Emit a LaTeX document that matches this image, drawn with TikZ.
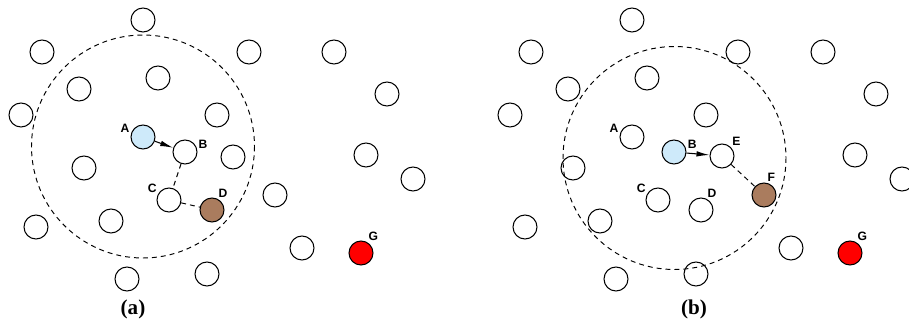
\documentclass[tikz,border=0pt]{standalone}
\usepackage{fontspec}
\setmainfont{Liberation Serif}
\setsansfont{Liberation Sans}
\usetikzlibrary{arrows.meta}

\definecolor{srcblue}{RGB}{206,234,250}
\definecolor{relaybrown}{RGB}{170,124,94}

\begin{document}
\begin{tikzpicture}[x=0.2mm, y=-0.2mm, >={Latex[length=2.6mm, width=1.1mm]},
  sensor/.style={draw, circle, line width=0.6pt, minimum size=4.8mm, inner sep=0pt},
  nlabel/.style={font=\sffamily\bfseries\fontsize{6.9}{8}\selectfont, inner sep=0.6pt},
  radio/.style={draw, line width=0.55pt, dash pattern=on 2.8pt off 2.3pt},
  subcap/.style={font=\bfseries\fontsize{12}{14}\selectfont}]
  \useasboundingbox (0,0) rectangle (909,321);

  % (a)
  \draw[radio] (143,146.5) circle [radius=111.5];
  \node[sensor] (a1) at (143,20) {};
  \node[sensor] (a2) at (42,52) {};
  \node[sensor] (a3) at (249,52) {};
  \node[sensor] (a4) at (334,52) {};
  \node[sensor] (a5) at (158,78) {};
  \node[sensor] (a6) at (79,89) {};
  \node[sensor] (a7) at (387,94) {};
  \node[sensor] (a8) at (21,115) {};
  \node[sensor] (a9) at (217,115) {};
  \node[sensor, fill=srcblue, label={[nlabel]165:A}] (aA) at (143,137) {};
  \node[sensor, label={[nlabel]10:B}] (aB) at (185,152) {};
  \node[sensor] (a10) at (233,157) {};
  \node[sensor] (a11) at (366,155) {};
  \node[sensor] (a12) at (84,168) {};
  \node[sensor] (a13) at (413,179) {};
  \node[sensor, label={[nlabel]150:C}] (aC) at (169,200) {};
  \node[sensor, fill=relaybrown, label={[nlabel]65:D}] (aD) at (212,210) {};
  \node[sensor] (a14) at (275,195) {};
  \node[sensor] (a15) at (36,227) {};
  \node[sensor] (a16) at (111,221) {};
  \node[sensor] (a17) at (302,248) {};
  \node[sensor, fill=red, label={[nlabel]60:G}] (aG) at (361,253) {};
  \node[sensor] (a18) at (127,279) {};
  \node[sensor] (a19) at (207,274) {};
  \draw[->, line width=0.6pt] (aA) -- (aB);
  \draw[radio] (aB) -- (aC);
  \draw[radio] (aC) -- (aD);
  \node[subcap] (capa) at (133,309) {(a)};

  % (b)
  \draw[radio] (674.5,158) circle [radius=111.5];
  \node[sensor] (b1) at (632,20) {};
  \node[sensor] (b2) at (531,52) {};
  \node[sensor] (b3) at (738,52) {};
  \node[sensor] (b4) at (823,52) {};
  \node[sensor] (b5) at (647,78) {};
  \node[sensor] (b6) at (568,89) {};
  \node[sensor] (b7) at (876,94) {};
  \node[sensor] (b8) at (510,115) {};
  \node[sensor] (b9) at (706,115) {};
  \node[sensor, label={[nlabel]165:A}] (bA) at (632,137) {};
  \node[sensor, fill=srcblue, label={[nlabel]10:B}] (bB) at (674,152) {};
  \node[sensor, label={[nlabel]45:E}] (bE) at (722,156) {};
  \node[sensor] (b11) at (855,155) {};
  \node[sensor] (b12) at (573,168) {};
  \node[sensor] (b13) at (902,179) {};
  \node[sensor, label={[nlabel]150:C}] (bC) at (658,200) {};
  \node[sensor, label={[nlabel]65:D}] (bD) at (701,210) {};
  \node[sensor, fill=relaybrown, label={[nlabel]80:F}] (bF) at (764,195) {};
  \node[sensor] (b15) at (525,227) {};
  \node[sensor] (b16) at (600,221) {};
  \node[sensor] (b17) at (791,248) {};
  \node[sensor, fill=red, label={[nlabel]60:G}] (bG) at (850,253) {};
  \node[sensor] (b18) at (616,279) {};
  \node[sensor] (b19) at (696,274) {};
  \draw[->, line width=0.6pt] (bB) -- (bE);
  \draw[radio] (bE) -- (bF);
  \node[subcap] (capb) at (694,309) {(b)};
\end{tikzpicture}
\end{document}
